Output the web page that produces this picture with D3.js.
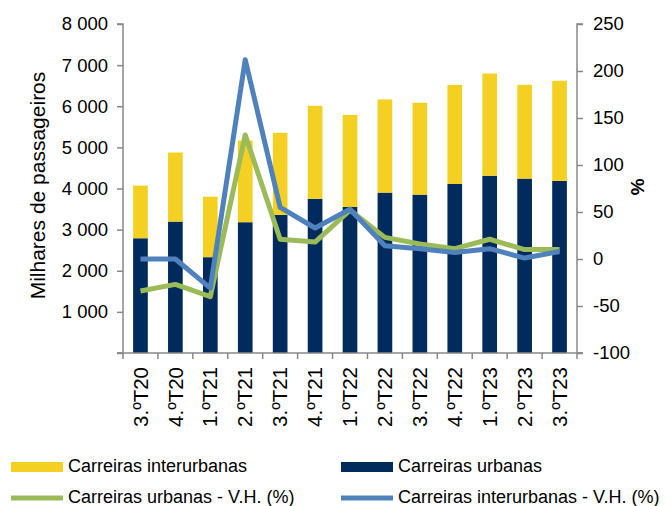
<!DOCTYPE html>
<html>
<head>
<meta charset="utf-8">
<script src="https://cdn.jsdelivr.net/npm/d3@7"></script>
<style>
  body { margin: 0; background: #fff; }
  text { font-family: "Liberation Sans", Arial, sans-serif; fill: #000; }
</style>
</head>
<body>
<div id="chart"></div>
<script>
// Dados (milhares de passageiros e variação homóloga em %)
const categories = ["3.ºT20", "4.ºT20", "1.ºT21", "2.ºT21", "3.ºT21", "4.ºT21", "1.ºT22",
  "2.ºT22", "3.ºT22", "4.ºT22", "1.ºT23", "2.ºT23", "3.ºT23"];
const urbanas = [2790, 3195, 2330, 3180, 3360, 3750, 3550, 3900, 3850, 4110, 4310, 4240, 4185];
const interurbanas = [1280, 1680, 1470, 1985, 1995, 2260, 2240, 2265, 2235, 2410, 2485, 2280, 2435];
const vhUrbanas = [-34, -27, -40, 132, 21, 18, 52, 23, 16, 11, 21, 10, 10];
const vhInterurbanas = [0, 0, -31, 212, 55, 33, 53, 14, 11, 7, 11, 1, 8];
const leftTicks = [0, 1000, 2000, 3000, 4000, 5000, 6000, 7000, 8000];
const rightTicks = [-100, -50, 0, 50, 100, 150, 200, 250];

const colors = { inter: "#F4D023", urb: "#002B5C", vhUrb: "#9BBB59", vhInter: "#4F81BD" };
const axisColor = "#888";

const width = 667, height = 506;
const plot = { left: 123, right: 577, top: 24, bottom: 353 };

const svg = d3.select("#chart").append("svg")
  .attr("width", width)
  .attr("height", height);

const x = d3.scaleBand()
  .domain(categories)
  .range([plot.left, plot.right])
  .paddingInner(0.58)
  .paddingOuter(0.29);

const y = d3.scaleLinear().domain([0, 8000]).range([plot.bottom, plot.top]);
const y2 = d3.scaleLinear().domain([-100, 250]).range([plot.bottom, plot.top]);

// milhares separados por espaço, sem rótulo no zero
const fmt = d => d === 0 ? "" : d3.format(",")(d).replace(/,/g, " ");

// barras empilhadas
const rows = categories.map((c, i) => ({ cat: c, urb: urbanas[i], inter: interurbanas[i] }));
const stack = d3.stack().keys(["urb", "inter"])(rows);

svg.append("g")
  .selectAll("g")
  .data(stack)
  .enter()
  .append("g")
  .attr("fill", d => colors[d.key])
  .selectAll("rect")
  .data(d => d)
  .enter()
  .append("rect")
  .attr("x", d => x(d.data.cat))
  .attr("y", d => y(d[1]))
  .attr("width", x.bandwidth())
  .attr("height", d => y(d[0]) - y(d[1]));

// eixos
svg.append("g")
  .attr("transform", `translate(${plot.left},0)`)
  .call(d3.axisLeft(y).tickValues(leftTicks).tickFormat(fmt).tickSize(6).tickPadding(9))
  .call(g => g.selectAll("path, line").attr("stroke", axisColor).attr("stroke-width", 1.5))
  .call(g => g.selectAll("text").style("font-size", "18.5px"))
  .call(g => g.select(".domain").attr("d", `M-6,${plot.top}H0V${plot.bottom}H-6`));

svg.append("g")
  .attr("transform", `translate(${plot.right},0)`)
  .call(d3.axisRight(y2).tickValues(rightTicks).tickFormat(d => String(d)).tickSize(6).tickPadding(10))
  .call(g => g.selectAll("path, line").attr("stroke", axisColor).attr("stroke-width", 1.5))
  .call(g => g.selectAll("text").style("font-size", "18.5px"))
  .call(g => g.select(".domain").attr("d", `M6,${plot.top}H0V${plot.bottom}H6`));

// eixo x: linha, marcas entre categorias e etiquetas rodadas
const step = x.step();
const bounds = categories.map(c => x(c) - step * x.paddingInner() / 2);
bounds.push(plot.right);

const xg = svg.append("g");
xg.append("line")
  .attr("x1", plot.left - 6).attr("x2", plot.right + 6)
  .attr("y1", plot.bottom).attr("y2", plot.bottom)
  .attr("stroke", axisColor).attr("stroke-width", 1.5);
xg.selectAll(".tk")
  .data(bounds)
  .enter()
  .append("line")
  .attr("class", "tk")
  .attr("x1", d => d).attr("x2", d => d)
  .attr("y1", plot.bottom).attr("y2", plot.bottom + 6)
  .attr("stroke", axisColor).attr("stroke-width", 1.5);
xg.selectAll("text")
  .data(categories)
  .enter()
  .append("text")
  .attr("transform", d => `translate(${x(d) + x.bandwidth() / 2},${plot.bottom + 14}) rotate(-90)`)
  .attr("text-anchor", "end")
  .attr("dy", "0.35em")
  .style("font-size", "20.5px")
  .text(d => d);

// linhas de variação homóloga
const line = d3.line()
  .x((d, i) => x(categories[i]) + x.bandwidth() / 2)
  .y(d => y2(d));

svg.append("path")
  .datum(vhUrbanas)
  .attr("d", line)
  .attr("fill", "none")
  .attr("stroke", colors.vhUrb)
  .attr("stroke-width", 5)
  .attr("stroke-linejoin", "round");

svg.append("path")
  .datum(vhInterurbanas)
  .attr("d", line)
  .attr("fill", "none")
  .attr("stroke", colors.vhInter)
  .attr("stroke-width", 5)
  .attr("stroke-linejoin", "round");

// títulos dos eixos
svg.append("text")
  .attr("transform", `translate(38,${(plot.top + plot.bottom) / 2 - 3}) rotate(-90)`)
  .attr("text-anchor", "middle")
  .attr("dy", "0.35em")
  .style("font-size", "21px")
  .text("Milhares de passageiros");

svg.append("text")
  .attr("transform", `translate(638,187) rotate(90)`)
  .attr("text-anchor", "middle")
  .attr("dy", "0.35em")
  .style("font-size", "19px")
  .style("font-weight", "bold")
  .text("%");

// legenda
const legendItems = [
  { label: "Carreiras interurbanas", color: colors.inter, type: "rect", x: 11, y: 467 },
  { label: "Carreiras urbanas", color: colors.urb, type: "rect", x: 341, y: 467 },
  { label: "Carreiras urbanas - V.H. (%)", color: colors.vhUrb, type: "line", x: 11, y: 498 },
  { label: "Carreiras interurbanas - V.H. (%)", color: colors.vhInter, type: "line", x: 341, y: 498 }
];

const legend = svg.selectAll(".legend")
  .data(legendItems)
  .enter()
  .append("g")
  .attr("class", "legend")
  .attr("transform", d => `translate(${d.x},${d.y})`);

legend.append("rect")
  .attr("x", 0)
  .attr("y", d => d.type === "rect" ? -5 : -2.5)
  .attr("width", 52)
  .attr("height", d => d.type === "rect" ? 10 : 5)
  .attr("fill", d => d.color);

legend.append("text")
  .attr("x", 57)
  .attr("y", 5)
  .style("font-size", "18px")
  .text(d => d.label);
</script>
</body>
</html>
